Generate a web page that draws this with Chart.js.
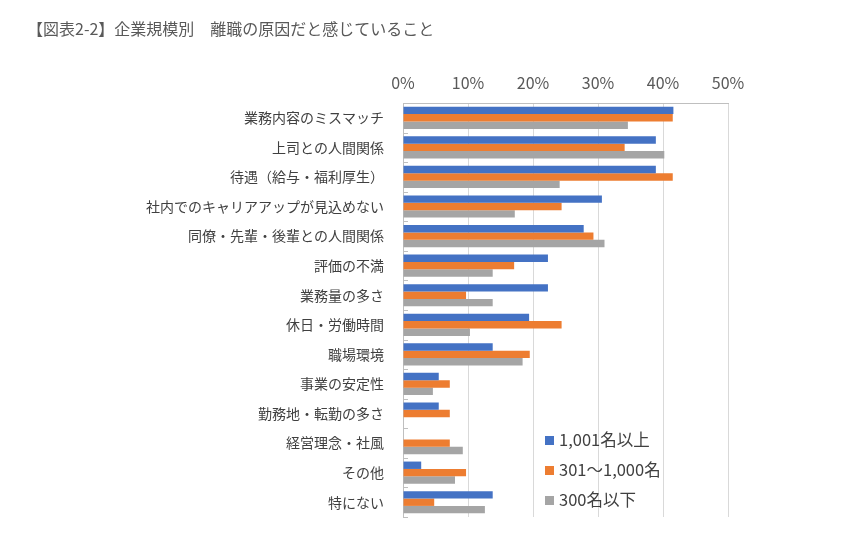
<!DOCTYPE html>
<html lang="ja">
<head>
<meta charset="utf-8">
<script src="https://cdn.jsdelivr.net/npm/chart.js@4"></script>
<style>
  body { margin: 0; background: #fff; }
  #wrap { position: relative; width: 862px; height: 545px; font-family: "Noto Sans CJK JP", "Noto Sans", sans-serif; }
  #title { position: absolute; left: 27px; top: 16px; font-size: 16px; color: #595959; white-space: pre; }
  #legend { position: absolute; left: 545px; top: 426px; font-size: 16.5px; color: #404040; }
  #legend div { height: 30px; line-height: 26px; }
  #legend span { display: inline-block; width: 9px; height: 9px; margin-right: 5px; vertical-align: 1px; }
</style>
</head>
<body>
<div id="wrap">
  <canvas id="chart" width="862" height="545"></canvas>
  <div id="title">【図表2-2】企業規模別　離職の原因だと感じていること</div>
  <div id="legend"></div>
</div>
<script>
// Data
const categories = [
  '業務内容のミスマッチ', '上司との人間関係', '待遇（給与・福利厚生）',
  '社内でのキャリアアップが見込めない', '同僚・先輩・後輩との人間関係', '評価の不満',
  '業務量の多さ', '休日・労働時間', '職場環境', '事業の安定性',
  '勤務地・転勤の多さ', '経営理念・社風', 'その他', '特にない'
];
const seriesNames = ['1,001名以上', '301～1,000名', '300名以下'];
const large = [41.6, 38.9, 38.9, 30.6, 27.8, 22.3, 22.3, 19.4, 13.8, 5.5, 5.5, 0, 2.8, 13.8];
const medium = [41.5, 34.1, 41.5, 24.4, 29.3, 17.1, 9.7, 24.4, 19.5, 7.2, 7.2, 7.2, 9.7, 4.8];
const small = [34.6, 40.2, 24.1, 17.2, 31.0, 13.8, 13.8, 10.3, 18.4, 4.6, 0, 9.2, 8.0, 12.6];
const xTicks = [0, 10, 20, 30, 40, 50];
const colors = ['#4472C4', '#ED7D31', '#A5A5A5'];

// small tick marks on the category axis, drawn to the right of the axis line
const catTicks = {
  id: 'catTicks',
  afterDraw(chart) {
    const y = chart.scales.y, a = chart.chartArea, c = chart.ctx;
    const step = (a.bottom - a.top) / categories.length;
    c.save();
    c.strokeStyle = '#bfbfbf';
    c.lineWidth = 1;
    for (let i = 1; i <= categories.length; i++) {
      const py = Math.round(y.getPixelForValue(i - 1) + step / 2) + 0.5;
      c.beginPath();
      c.moveTo(a.left, py);
      c.lineTo(a.left + 5, py);
      c.stroke();
    }
    c.restore();
  }
};

const ctx = document.getElementById('chart').getContext('2d');
new Chart(ctx, {
  type: 'bar',
  data: {
    labels: categories,
    datasets: [large, medium, small].map((d, i) => ({
      label: seriesNames[i],
      data: d,
      backgroundColor: colors[i],
      barPercentage: 1.0,
      categoryPercentage: 0.75
    }))
  },
  options: {
    indexAxis: 'y',
    responsive: false,
    animation: false,
    layout: { padding: { top: 62, right: 134, bottom: 28, left: 0 } },
    plugins: {
      legend: { display: false },
      tooltip: { enabled: false }
    },
    scales: {
      x: {
        position: 'top',
        min: 0,
        max: 50,
        afterBuildTicks: s => { s.ticks = xTicks.map(v => ({ value: v })); },
        afterFit: s => { s.height = 41; },
        ticks: {
          callback: v => v + '%',
          color: '#595959',
          padding: 10,
          font: { family: '"Noto Sans CJK JP"', size: 16 }
        },
        grid: { color: '#d9d9d9', drawTicks: false },
        border: { color: '#bfbfbf' }
      },
      y: {
        afterFit: s => { s.width = 403; },
        ticks: {
          color: '#404040',
          padding: 11,
          font: { family: '"Noto Sans CJK JP"', size: 14 }
        },
        grid: { display: false },
        border: { color: '#bfbfbf' }
      }
    }
  },
  plugins: [catTicks]
});

// Legend
document.getElementById('legend').innerHTML = seriesNames
  .map((n, i) => `<div><span style="background:${colors[i]}"></span>${n}</div>`)
  .join('');
</script>
</body>
</html>
